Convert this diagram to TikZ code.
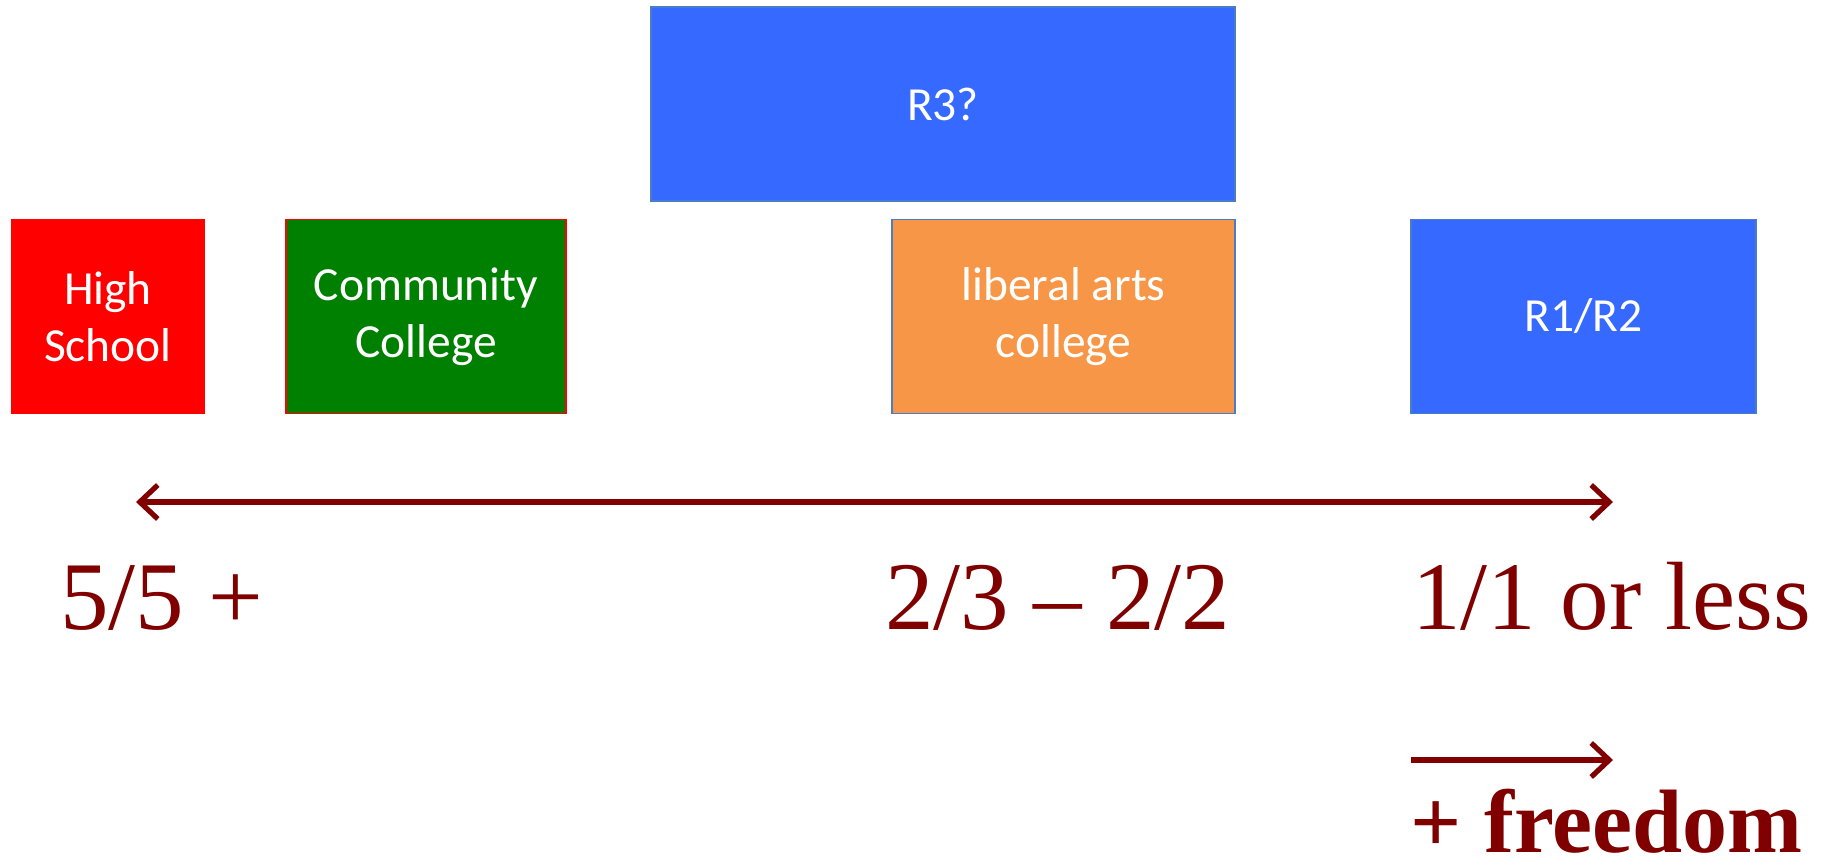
\documentclass[tikz,border=0pt]{standalone}
\usepackage{fontspec}
\setmainfont{Liberation Serif}
\newfontfamily\boxfont{Carlito}
\usetikzlibrary{arrows.meta}
\definecolor{dred}{HTML}{800000}
\definecolor{rblue}{HTML}{3669FF}
\definecolor{bblue}{HTML}{4A7CC8}
\definecolor{lorange}{HTML}{F79646}
\definecolor{cgreen}{HTML}{008000}
\tikzset{
  box/.style={rectangle, inner sep=0pt, line width=0.8pt, text=white, align=center,
    font=\boxfont\fontsize{23.75}{28.5}\selectfont},
  twoway/.style={line width=2.6pt, draw=dred, arrows={Straight Barb[length=9pt,width=17pt]-Straight Barb[length=9pt,width=17pt]}},
  oneway/.style={line width=2.6pt, draw=dred, -{Straight Barb[length=9pt,width=17pt]}},
  lbl/.style={anchor=base west, inner sep=0pt, text=dred, font=\fontsize{48.5}{50}\selectfont}
}
\begin{document}
\begin{tikzpicture}[x=0.5pt,y=-0.5pt]
\useasboundingbox (0,0) rectangle (1822,866);
\node (hs) [box, fill=red, draw=red, minimum width=96.5pt, minimum height=97pt] at (108,316.5) {High\\School};
\node (cc) [box, fill=cgreen, draw=red, minimum width=140pt, minimum height=97pt] at (426,316.5) {Community\\College};
\node (r3) [box, fill=rblue, draw=bblue, minimum width=292pt, minimum height=97pt] at (943,104) {R3?};
\node (la) [box, fill=lorange, draw=bblue, minimum width=171.5pt, minimum height=97pt] at (1063.5,316.5) {liberal arts\\college};
\node (r12) [box, fill=rblue, draw=bblue, minimum width=172.5pt, minimum height=97pt] at (1583.5,316.5) {R1/R2};
\coordinate (sl) at (136,502);
\coordinate (sr) at (1613,502);
\draw[twoway] (sl) -- (sr);
\node (t55) [lbl] at (60,629) {5/5 +};
\node (t23) [lbl] at (885,629) {2/3 – 2/2};
\node (t11) [lbl] at (1412,629) {1/1 or less};
\coordinate (fl) at (1411,760);
\coordinate (fr) at (1613,760);
\draw[oneway] (fl) -- (fr);
\node (tfr) [lbl, font=\bfseries\fontsize{45}{48}\selectfont] at (1410,852) {+ freedom};
\end{tikzpicture}
\end{document}
